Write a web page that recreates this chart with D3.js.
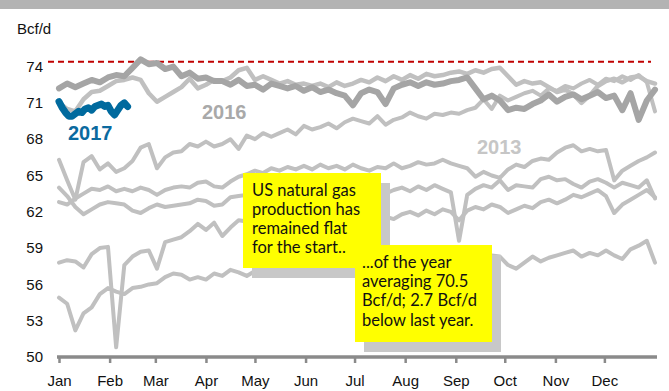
<!DOCTYPE html>
<html>
<head>
<meta charset="utf-8">
<script src="https://cdn.jsdelivr.net/npm/d3@7"></script>
<style>
  html, body { margin: 0; padding: 0; background: #fff; }
  svg { display: block; }
  .tick-label { font-family: "Liberation Sans", Arial, sans-serif; font-size: 15px; fill: #111; }
  .note { font-family: "Comic Sans MS", Lato, sans-serif; font-size: 16.5px; fill: #111; }
  .yr { font-family: "Liberation Sans", Arial, sans-serif; font-weight: bold; font-size: 20px; }
</style>
</head>
<body>
<svg id="chart" width="669" height="391"></svg>
<script>
// Daily US dry gas production by calendar year, Bcf/d (one reading every 5 days)
const stepDays = 5;
const y2010 = [54.9,54.4,52.2,53.6,54.1,55.2,55.7,55.4,55.2,55.7,55.8,56.0,56.1,56.6,56.9,56.8,56.4,56.6,56.4,56.9,56.7,57.2,57.0,56.7,57.1,57.0,57.3,57.1,57.4,57.2,57.5,57.3,57.6,57.4,57.7,57.5,57.8,57.6,57.9,57.7,58.0,57.8,58.1,57.9,58.2,58.0,58.3,58.1,58.4,58.2,58.0,58.3,58.1,58.4,58.3,57.6,57.3,57.8,58.3,57.9,58.2,58.4,58.6,58.8,58.3,58.6,58.4,58.8,58.4,58.1,58.9,59.2,59.6,57.8];
const y2011 = [57.8,58.0,57.9,57.4,58.5,59.0,59.1,50.8,57.6,58.3,58.7,58.8,57.3,59.5,59.7,59.9,60.4,61.0,60.5,61.1,60.0,60.7,61.3,61.2,61.4,61.5,61.3,61.6,61.4,61.7,61.5,61.8,61.6,61.9,61.6,61.8,61.5,61.9,61.7,62.0,61.6,61.4,61.8,62.0,61.7,62.1,61.8,62.2,62.0,61.3,62.1,62.4,62.2,62.6,62.4,61.9,62.2,62.5,62.3,62.8,63.0,62.7,63.0,63.4,63.2,63.5,63.8,63.3,61.9,62.6,63.0,63.4,63.8,63.2];
const y2012 = [64.0,63.3,62.4,61.8,62.2,62.6,62.8,62.7,62.6,62.1,61.9,62.3,62.6,62.4,62.5,62.6,62.7,63.0,62.9,62.5,62.6,63.2,63.3,63.4,63.2,63.5,63.3,63.6,63.4,63.7,63.5,63.8,63.6,63.9,63.5,63.7,63.4,63.8,63.6,63.9,63.5,63.8,64.0,63.7,64.1,63.8,64.2,63.9,63.6,59.6,63.4,63.9,64.2,64.0,64.6,63.8,64.2,64.1,64.0,64.7,64.9,64.6,64.7,64.3,64.0,64.5,64.7,64.4,64.0,64.4,64.2,64.0,64.6,63.1];
const y2013 = [62.8,62.6,63.1,63.5,63.9,63.8,64.1,63.7,63.9,63.7,64.0,63.8,63.4,63.8,64.0,64.1,64.0,64.4,64.5,64.1,64.0,64.5,64.9,65.1,65.4,65.2,65.6,65.4,65.7,65.5,65.8,65.5,65.9,65.6,65.8,65.5,65.9,65.6,65.4,65.7,65.6,66.0,65.6,65.8,66.1,65.9,66.0,66.3,66.0,65.8,65.6,64.9,65.3,65.0,64.8,65.5,65.9,65.7,66.2,66.4,66.3,66.9,67.3,67.5,67.0,67.2,67.0,67.1,64.6,65.4,65.8,66.2,66.5,66.9];
const y2014 = [66.3,64.6,63.0,66.1,66.6,65.5,66.0,65.3,65.6,66.2,67.3,67.6,65.6,66.5,66.9,67.0,67.6,67.4,67.8,67.4,67.6,68.0,67.2,68.3,68.0,68.5,68.2,68.5,68.8,68.4,69.1,68.8,69.0,69.3,68.9,69.4,69.7,69.5,69.3,69.9,69.2,69.6,69.8,70.2,69.9,69.7,70.1,70.0,70.2,70.1,70.4,70.6,71.3,70.5,71.6,71.2,71.5,71.8,72.0,71.6,72.2,72.0,72.4,72.2,72.6,72.9,72.5,73.0,72.8,73.2,72.9,73.3,72.7,70.3];
const y2015 = [71.0,70.5,70.3,71.3,71.9,72.0,72.4,72.8,72.9,73.1,72.9,71.8,71.1,71.5,71.9,72.3,73.0,72.2,72.5,72.9,72.8,73.1,73.7,73.9,72.9,73.2,72.9,72.6,72.8,72.5,72.6,72.4,72.6,72.3,72.7,72.4,72.6,72.9,72.7,73.1,72.8,73.2,72.9,73.3,73.0,73.4,73.2,73.3,73.5,73.6,73.4,73.7,73.5,73.8,73.9,73.2,72.5,72.8,72.6,72.7,72.3,71.9,72.1,71.7,71.0,71.6,72.4,72.8,73.0,72.7,73.1,73.2,72.8,72.6];
const y2016 = [72.2,72.6,72.3,72.6,72.9,72.7,73.1,73.3,73.2,73.9,74.6,74.2,74.3,73.8,74.0,73.2,73.5,73.0,73.1,72.8,72.8,72.5,72.9,72.4,72.5,72.1,72.6,72.4,72.2,72.4,72.0,72.3,71.9,72.1,71.8,71.6,70.8,71.8,72.1,71.9,70.9,72.2,72.5,72.7,72.4,72.7,72.5,72.6,72.8,72.9,73.1,72.2,71.3,71.6,71.2,70.4,70.6,70.5,70.9,71.2,71.7,71.1,71.5,71.7,71.3,71.6,71.9,71.4,71.6,70.4,71.8,69.6,71.2,72.1];
// 2017 to date, one reading every 2 days
const step2017 = 2;
const y2017 = [71.1,70.6,70.2,69.9,69.9,70.1,70.3,70.2,70.5,70.6,70.4,70.7,70.8,70.9,70.7,70.8,70.3,70.0,70.4,70.8,71.0,70.7];

const recordHigh = 74.4;
const yTicks = [50, 53, 56, 59, 62, 65, 68, 71, 74];
const monthLabels = ["Jan","Feb","Mar","Apr","May","Jun","Jul","Aug","Sep","Oct","Nov","Dec"];
const unitLabel = "Bcf/d";
const noteA = ["US natural gas", "production has", "remained flat", "for the start.."];
const noteB = ["...of the year", "averaging 70.5", "Bcf/d; 2.7 Bcf/d", "below last year."];

const svg = d3.select("#chart");
const W = 669, H = 391;
const base = new Date(2015, 0, 1);

const x = d3.scaleTime().domain([base, new Date(2016, 0, 1)]).range([59, 655]);
const y = d3.scaleLinear().domain([50, 74]).range([357, 66.6]);

// banner strip
svg.append("rect").attr("x", 0).attr("y", 0).attr("width", W).attr("height", 9).attr("fill", "#b3b3b3");

svg.append("text").attr("class", "tick-label").attr("x", 17).attr("y", 34).text(unitLabel);

// y labels
svg.selectAll(".ylab").data(yTicks).enter().append("text")
  .attr("class", "tick-label")
  .attr("x", 43).attr("y", d => y(d)).attr("dy", "0.35em")
  .attr("text-anchor", "end").text(d => d);

// x axis
const xAxis = d3.axisBottom(x).ticks(d3.timeMonth.every(1)).tickSize(6).tickFormat((d, i) => monthLabels[d.getMonth()]);
const gx = svg.append("g").attr("transform", `translate(0,${y(50)})`).call(xAxis);
gx.select(".domain").attr("stroke", "#8a8a8a").attr("stroke-width", 3.5).attr("d", `M57,0H657`);
gx.selectAll(".tick line").attr("stroke", "#8a8a8a").attr("stroke-width", 2.5);
gx.selectAll(".tick text").attr("class", "tick-label").attr("dy", 0).attr("y", 29)
  .style("font-size", "15px").style("font-family", "'Liberation Sans', Arial, sans-serif").attr("fill", "#111");
gx.selectAll(".tick").filter(d => d.getFullYear() > 2015).remove();

// record-high reference
svg.append("line")
  .attr("x1", 48).attr("x2", 651).attr("y1", y(recordHigh)).attr("y2", y(recordHigh))
  .attr("stroke", "#c00000").attr("stroke-width", 2).attr("stroke-dasharray", "6,4");

const series = [
  { vals: y2010, step: stepDays, color: "#c0c0c0", w: 4 },
  { vals: y2011, step: stepDays, color: "#c0c0c0", w: 4 },
  { vals: y2012, step: stepDays, color: "#c0c0c0", w: 4 },
  { vals: y2013, step: stepDays, color: "#c0c0c0", w: 4 },
  { vals: y2014, step: stepDays, color: "#c0c0c0", w: 4 },
  { vals: y2015, step: stepDays, color: "#c0c0c0", w: 4.5 },
  { vals: y2016, step: stepDays, color: "#a5a5a5", w: 6 },
  { vals: y2017, step: step2017, color: "#006a9e", w: 7 }
];

const line = d3.line()
  .x(d => x(d.date)).y(d => y(d.v))
  .curve(d3.curveLinear);

series.forEach(s => {
  const pts = s.vals.map((v, i) => ({ date: d3.timeDay.offset(base, i * s.step), v }));
  svg.append("path").datum(pts)
    .attr("d", line).attr("fill", "none")
    .attr("stroke", s.color).attr("stroke-width", s.w)
    .attr("stroke-linejoin", "round").attr("stroke-linecap", "round");
});

// year labels
svg.append("text").attr("class", "yr").attr("x", 68).attr("y", 140).attr("fill", "#0b6a9f").text("2017");
svg.append("text").attr("class", "yr").attr("x", 202).attr("y", 119).attr("fill", "#a9a9a9").text("2016");
svg.append("text").attr("class", "yr").attr("x", 477).attr("y", 154).attr("fill", "#c6c6c6").text("2013");

// callouts
function callout(x0, y0, w, h, lines, tx, ty0, lh) {
  svg.append("rect").attr("x", x0 + 9).attr("y", y0 + 10).attr("width", w).attr("height", h).attr("fill", "#c8c8c8");
  svg.append("rect").attr("x", x0).attr("y", y0).attr("width", w).attr("height", h).attr("fill", "#ffff00");
  svg.append("g").selectAll("text").data(lines).enter().append("text")
    .attr("class", "note").attr("x", tx).attr("y", (d, i) => ty0 + i * lh).text(d => d);
}
callout(243, 173, 138, 95, noteA, 252, 196, 19);
callout(355, 245, 137, 97, noteB, 362, 268, 19.2);
</script>
</body>
</html>
